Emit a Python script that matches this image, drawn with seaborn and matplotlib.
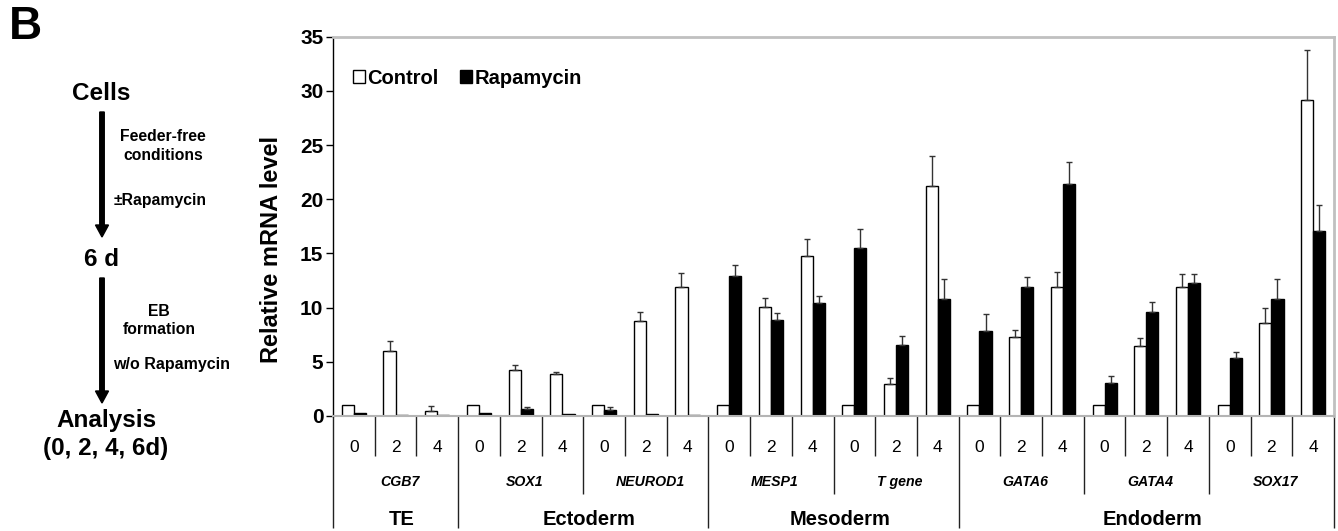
import numpy as np
import pandas as pd
import matplotlib
matplotlib.use("Agg")
import matplotlib.pyplot as plt
import seaborn as sns

# data
genes = ["CGB7", "SOX1", "NEUROD1", "MESP1", "T gene", "GATA6", "GATA4", "SOX17"]
days = ["0", "2", "4"]
layers = ["TE", "Ectoderm", "Mesoderm", "Endoderm"]
genes_per_layer = [1, 2, 2, 3]

control = [1.0, 6.0, 0.5, 1.0, 4.25, 3.88, 1.0, 8.8, 11.88,
           1.0, 10.05, 14.8, 1.0, 2.95, 21.2,
           1.0, 7.25, 11.88, 1.0, 6.43, 11.88, 1.0, 8.55, 29.14]
control_err = [0, 0.9, 0.4, 0, 0.5, 0.22, 0, 0.8, 1.3,
               0, 0.85, 1.5, 0, 0.6, 2.8,
               0, 0.7, 1.4, 0, 0.8, 1.25, 0, 1.4, 4.65]
rapamycin = [0.3, 0.1, 0.05, 0.25, 0.6, 0.2, 0.53, 0.15, 0.1,
             12.9, 8.86, 10.4, 15.5, 6.58, 10.77,
             7.85, 11.88, 21.4, 3.08, 9.57, 12.28, 5.35, 10.83, 17.08]
rapamycin_err = [0, 0, 0, 0, 0.2, 0, 0.27, 0, 0,
                 1.0, 0.6, 0.7, 1.8, 0.77, 1.9,
                 1.55, 0.9, 2.0, 0.58, 0.98, 0.86, 0.6, 1.8, 2.37]

samples = [g + "_" + d for g in genes for d in days]
df = pd.DataFrame({
    "sample": samples * 2,
    "value": control + rapamycin,
    "group": ["Control"] * len(samples) + ["Rapamycin"] * len(samples),
})

sns.set_style("ticks")
plt.rcParams["font.family"] = ["Liberation Sans", "DejaVu Sans"]
plt.rcParams["text.color"] = "black"
plt.rcParams["axes.labelcolor"] = "black"
plt.rcParams["xtick.color"] = "black"
plt.rcParams["ytick.color"] = "black"

fig = plt.figure(figsize=(13.38, 5.31), dpi=100)

# left panel: flow scheme (pixel coordinates)
ax0 = fig.add_axes([0, 0, 0.24, 1])
ax0.set_xlim(0, 0.24 * 1338)
ax0.set_ylim(531, 0)
ax0.axis("off")
ax0.text(25, 27, "B", fontsize=33, fontweight="bold", ha="center", va="center")
ax0.text(101, 94, "Cells", fontsize=17.5, fontweight="bold", ha="center", va="center")
ax0.arrow(102, 112, 0, 125, width=4.5, head_width=13, head_length=12,
          length_includes_head=True, color="black")
ax0.text(163, 146, "Feeder-free\nconditions", fontsize=11.3, fontweight="bold",
         ha="center", va="center", linespacing=1.35)
ax0.text(160, 201, "±Rapamycin", fontsize=11.3, fontweight="bold", ha="center", va="center")
ax0.text(101, 260, "6 d", fontsize=17.5, fontweight="bold", ha="center", va="center")
ax0.arrow(102, 278, 0, 125, width=4.5, head_width=13, head_length=12,
          length_includes_head=True, color="black")
ax0.text(159, 320, "EB\nformation", fontsize=11.3, fontweight="bold",
         ha="center", va="center", linespacing=1.25)
ax0.text(172, 365, "w/o Rapamycin", fontsize=11.5, fontweight="bold", ha="center", va="center")
ax0.text(106, 421, "Analysis", fontsize=17.5, fontweight="bold", ha="center", va="center")
ax0.text(106, 448, "(0, 2, 4, 6d)", fontsize=17.4, fontweight="bold", ha="center", va="center")

# right panel: bar chart
ax = fig.add_axes([0.2489, 0.2166, 0.7481, 0.7143])
sns.barplot(data=df, x="sample", y="value", hue="group", order=samples,
            palette={"Control": "white", "Rapamycin": "black"},
            edgecolor="black", linewidth=1, width=0.58, gap=0,
            errorbar=None, ax=ax)

for cont, errs in zip(ax.containers, [control_err, rapamycin_err]):
    xs, ys, es = [], [], []
    for p, e in zip(cont, errs):
        if e > 0:
            xs.append(p.get_x() + p.get_width() / 2)
            ys.append(p.get_height())
            es.append(e)
    ax.errorbar(xs, ys, yerr=[np.zeros(len(es)), es], fmt="none",
                ecolor="#333333", elinewidth=1, capsize=2.3, capthick=1, zorder=1)

ax.set_xlim(-0.5, len(samples) - 0.5)
ax.set_ylim(0, 35)
ax.set_yticks(range(0, 36, 5))
ax.set_ylabel("Relative mRNA level", fontsize=17, fontweight="bold")
ax.yaxis.set_label_coords(-0.05, 0.44)
ax.set_xlabel("")
for lab in ax.get_yticklabels():
    lab.set_fontweight("bold")
ax.tick_params(axis="y", labelsize=15, length=5, width=1, color="black", pad=2)

ax.set_xticks(range(len(samples)))
ax.set_xticklabels(days * len(genes), fontsize=12.5)
ax.tick_params(axis="x", length=0, pad=17)

ax.spines["left"].set_color("black")
ax.spines["left"].set_linewidth(1)
for s in ["top", "right"]:
    ax.spines[s].set_color("#c0c0c0")
    ax.spines[s].set_linewidth(2)
ax.spines["bottom"].set_color("#b4b4b4")
ax.spines["bottom"].set_linewidth(1.5)

# table-like category lines under the axis
tr = ax.get_xaxis_transform()
n = len(samples)
layer_edges = [-0.5]
for k in genes_per_layer:
    layer_edges.append(layer_edges[-1] + 3 * k)
gene_edges = [i * 3 - 0.5 for i in range(len(genes) + 1)]
day_edges = [i + 0.5 for i in range(n - 1)]
ax.vlines([x for x in day_edges if x not in gene_edges], -0.1055, 0,
          transform=tr, clip_on=False, color="#222222", lw=1)
ax.vlines([x for x in gene_edges if x not in layer_edges], -0.2056, 0,
          transform=tr, clip_on=False, color="#222222", lw=1)
ax.vlines(layer_edges, -0.295, 0, transform=tr, clip_on=False, color="#222222", lw=1)

for i, g in enumerate(genes):
    ax.text(i * 3 + 1.1, -0.173, g, transform=tr, ha="center", va="center",
            fontsize=10.2, fontweight="bold", fontstyle="italic")
for i, name in enumerate(layers):
    c = (layer_edges[i] + layer_edges[i + 1]) / 2
    ax.text(c + 0.15, -0.274, name, transform=tr, ha="center", va="center",
            fontsize=14.5, fontweight="bold")

handles, labels = ax.get_legend_handles_labels()
ax.legend(handles, labels, loc="center left", bbox_to_anchor=(0.012, 0.891),
          ncol=2, frameon=False, handlelength=0.6, handleheight=0.6,
          handletextpad=0.12, columnspacing=1.05, borderaxespad=0,
          prop={"weight": "bold", "size": 14.5})

fig.savefig("out.png", dpi=100)
